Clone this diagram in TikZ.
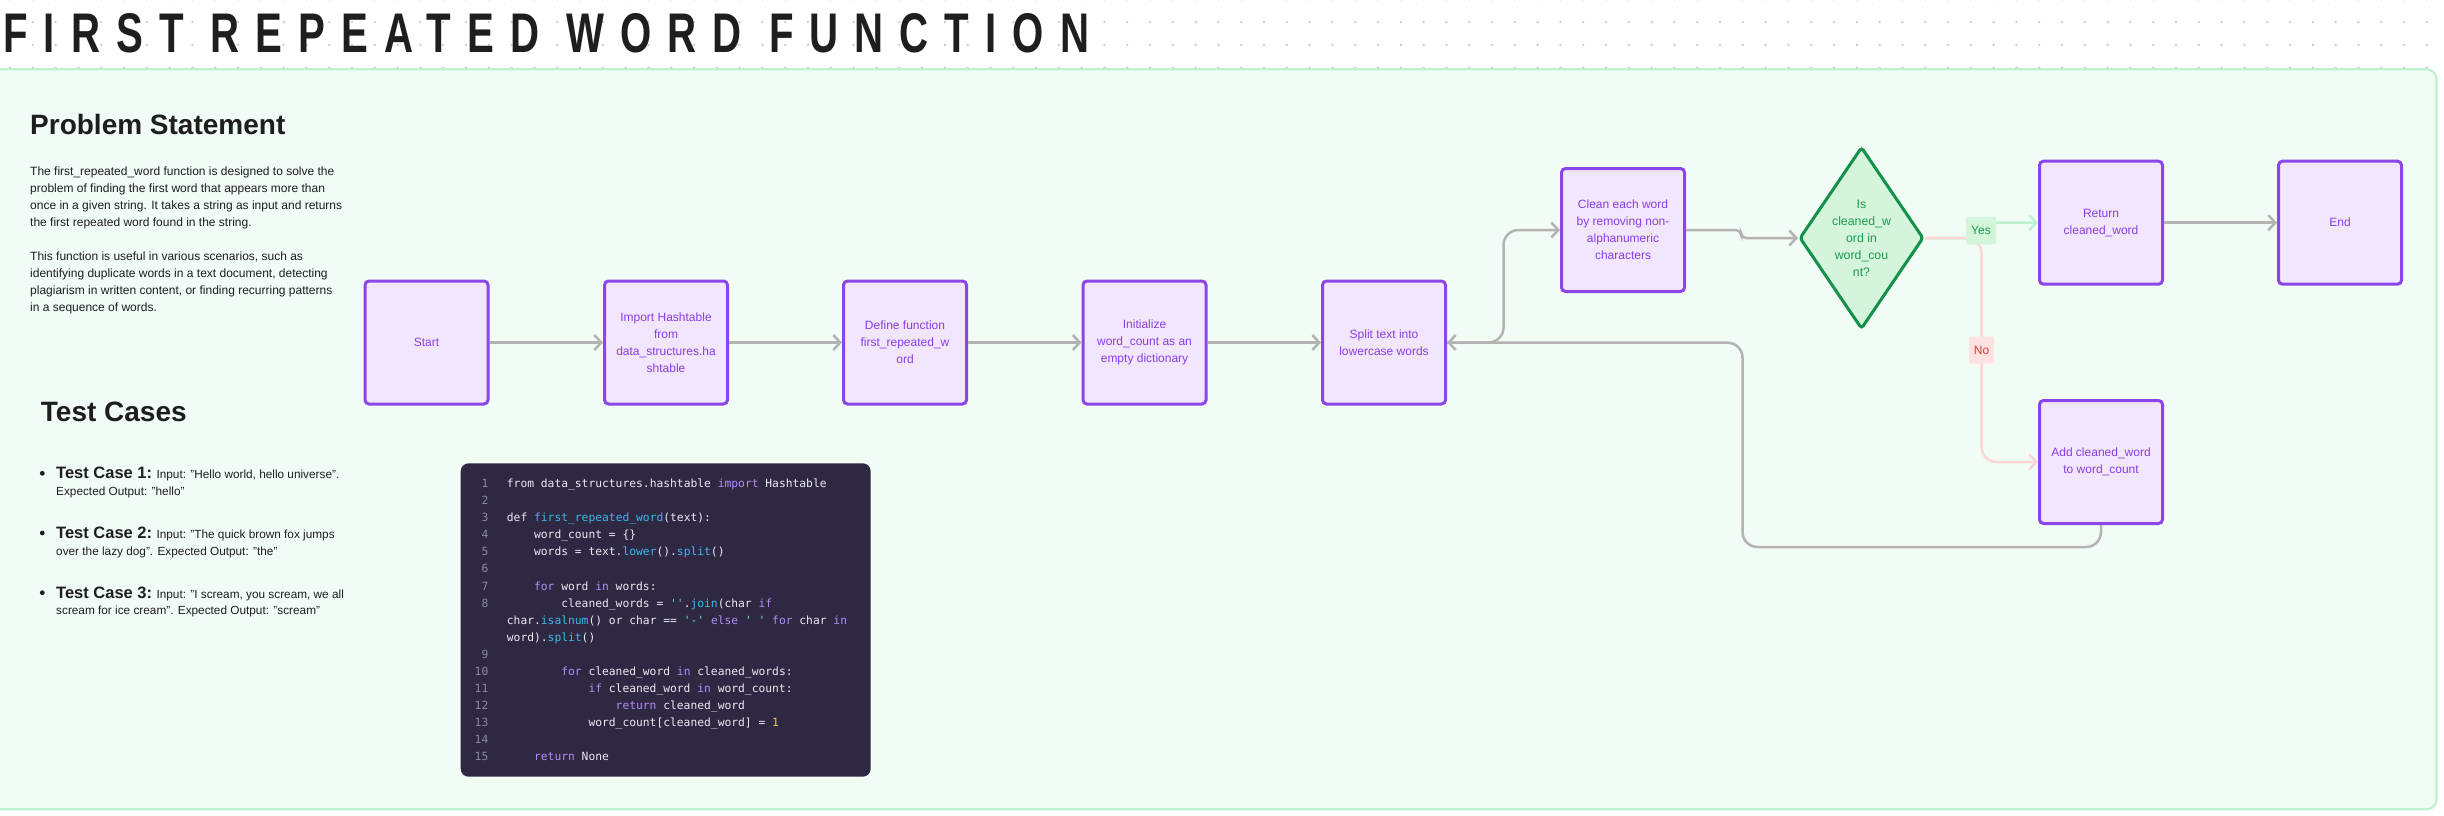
\documentclass[tikz,border=0pt]{standalone}
\usepackage{fontspec}
\usepackage{graphicx}
\setmainfont{Liberation Sans}
\setmonofont{DejaVu Sans Mono}
\newfontfamily\titlefont{Liberation Sans}[LetterSpace=40]
\usetikzlibrary{shapes.geometric,arrows.meta,calc}

\definecolor{dotc}{HTML}{CBCBCB}
\definecolor{panelfill}{HTML}{F1FCF4}
\definecolor{panelline}{HTML}{BDF0CF}
\definecolor{ink}{HTML}{1E1E1E}
\definecolor{boxfill}{HTML}{F2E6FD}
\definecolor{boxline}{HTML}{8B45E8}
\definecolor{boxtext}{HTML}{8A3DE6}
\definecolor{diafill}{HTML}{D4F5DC}
\definecolor{dialine}{HTML}{13914B}
\definecolor{diatext}{HTML}{1C9A50}
\definecolor{arrowgray}{HTML}{B3B3B3}
\definecolor{yesline}{HTML}{BDF2CC}
\definecolor{yesfill}{HTML}{D3F5D9}
\definecolor{yestext}{HTML}{1C9A4C}
\definecolor{noline}{HTML}{FDD5D5}
\definecolor{nofill}{HTML}{FEE2E2}
\definecolor{notext}{HTML}{E0393B}
\definecolor{codebg}{HTML}{2E2843}
\definecolor{codetext}{HTML}{ECEAF2}
\definecolor{codenum}{HTML}{8C8A9C}
\definecolor{ckwc}{HTML}{B28CF6}
\definecolor{cfnc}{HTML}{3DB8EA}
\definecolor{cstc}{HTML}{6EE0A0}
\definecolor{cnumc}{HTML}{F7C948}

\newcommand{\ckw}[1]{\textcolor{ckwc}{#1}}
\newcommand{\cfn}[1]{\textcolor{cfnc}{#1}}
\newcommand{\cst}[1]{\textcolor{cstc}{#1}}
\newcommand{\cnum}[1]{\textcolor{cnumc}{#1}}

\tikzset{
  procbox/.style={draw=boxline, fill=boxfill, line width=3, rounded corners=4,
    minimum width=123, minimum height=123, inner sep=2, align=center,
    text=boxtext, font=\fontsize{12}{17}\selectfont},
  decbox/.style={diamond, draw=dialine, fill=diafill, line width=3, rounded corners=3,
    minimum width=124, minimum height=182, inner sep=0},
  dectext/.style={align=center, text=diatext, font=\fontsize{12.3}{17}\selectfont, inner sep=0},
  arrgray/.style={draw=arrowgray, line width=2.5, -{Straight Barb[length=7pt,width=15pt]}},
  arryes/.style={draw=yesline, line width=2.5, -{Straight Barb[length=7pt,width=15pt]}},
  arrno/.style={draw=noline, line width=2.5, -{Straight Barb[length=7pt,width=15pt]}},
  yeslab/.style={fill=yesfill, text=yestext, minimum width=30, minimum height=27.5, inner sep=0, rounded corners=1.5, font=\fontsize{12}{14}\selectfont},
  nolab/.style={fill=nofill, text=notext, minimum width=25, minimum height=27, inner sep=0, rounded corners=1.5, font=\fontsize{12}{14}\selectfont},
  codebox/.style={fill=codebg, rounded corners=8, minimum width=410, minimum height=313.4, inner sep=0},
  cline/.style={anchor=base west, inner sep=0, text=codetext, font=\fontsize{11.3}{17}\ttfamily},
  cnumber/.style={anchor=base east, inner sep=0, text=codenum, font=\fontsize{11.3}{17}\ttfamily},
  bodytext/.style={anchor=base west, inner sep=0, text=ink, align=left, font=\fontsize{12}{17}\selectfont},
  casetext/.style={anchor=base west, inner sep=0, text=ink, align=left, font=\fontsize{11.8}{17}\selectfont},
  heading/.style={anchor=base west, inner sep=0, text=ink, font=\fontsize{28}{32}\selectfont\bfseries},
}

\begin{document}
\begin{tikzpicture}[x=1pt,y=-1pt]
\useasboundingbox (0,0) rectangle (2444,816);
\fill[white] (0,0) rectangle (2444,816);

% dot grid
\foreach \i in {0,...,106} {
  \foreach \j in {0,...,3} {
    \fill[dotc] (10+\i*22.8, -0.7+\j*22.8) circle (1.3);
  }
}

% title
\node[anchor=north west, inner sep=0, text=ink] (title) at (3,13)
  {\resizebox{1086pt}{39pt}{\titlefont\bfseries FIRST REPEATED WORD FUNCTION}};

% panel
\draw[fill=panelfill, draw=panelline, line width=2.2, rounded corners=10] (-20,69.3) rectangle (2436.5,809.3);

% problem statement (base anchor = baseline of last line)
\node[heading] (ph) at (30,134.3) {Problem Statement};
\node[bodytext] (p1) at (30,226) {The first\_repeated\_word function is designed to solve the\\problem of finding the first word that appears more than\\once in a given string. It takes a string as input and returns\\the first repeated word found in the string.};
\node[bodytext] (p2) at (30,311) {This function is useful in various scenarios, such as\\identifying duplicate words in a text document, detecting\\plagiarism in written content, or finding recurring patterns\\in a sequence of words.};

% test cases
\node[heading] (th) at (40.7,421.7) {Test Cases};
\fill[ink] (42.3,473.3) circle (2.4);
\fill[ink] (42.3,533) circle (2.4);
\fill[ink] (42.3,592.7) circle (2.4);
\node[casetext] (t1a) at (56,478.3) {{\fontsize{16.5}{20}\selectfont\bfseries Test Case 1:} Input: "Hello world, hello universe".};
\node[casetext] (t1b) at (56,495) {Expected Output: "hello"};
\node[casetext] (t2a) at (56,538.3) {{\fontsize{16.5}{20}\selectfont\bfseries Test Case 2:} Input: "The quick brown fox jumps};
\node[casetext] (t2b) at (56,555) {over the lazy dog". Expected Output: "the"};
\node[casetext] (t3a) at (56,598.3) {{\fontsize{16.5}{20}\selectfont\bfseries Test Case 3:} Input: "I scream, you scream, we all};
\node[casetext] (t3b) at (56,614.8) {scream for ice cream". Expected Output: "scream"};

% code block
\node[codebox] (code) at (665.7,620) {};
\foreach \n/\y in {1/487.5,2/504.6,3/521.7,4/538.7,5/555.8,6/572.9,7/590,8/607,9/658.3,10/675.4,11/692.4,12/709.5,13/726.6,14/743.7,15/760.8} {
  \node[cnumber] (n\n) at (488.5,\y) {\n};
}
\node[cline] (c1) at (506.7,487.5) {from data\_structures.hashtable \ckw{import} Hashtable};
\node[cline] (c3) at (506.7,521.7) {def \cfn{first\_repeated\_word}(text):};
\node[cline] (c4) at (533.9,538.7) {word\_count = \{\}};
\node[cline] (c5) at (533.9,555.8) {words = text.\cfn{lower}().\cfn{split}()};
\node[cline] (c7) at (533.9,590) {\ckw{for} word \ckw{in} words:};
\node[cline] (c8) at (561.1,607) {cleaned\_words = \cst{''}.\cfn{join}(char \ckw{if}};
\node[cline] (c8b) at (506.7,624.1) {char.\cfn{isalnum}() or char == \cst{'-'} \ckw{else} \cst{' '} \ckw{for} char \ckw{in}};
\node[cline] (c8c) at (506.7,641.2) {word).\cfn{split}()};
\node[cline] (c10) at (561.1,675.4) {\ckw{for} cleaned\_word \ckw{in} cleaned\_words:};
\node[cline] (c11) at (588.3,692.4) {\ckw{if} cleaned\_word \ckw{in} word\_count:};
\node[cline] (c12) at (615.5,709.5) {\ckw{return} cleaned\_word};
\node[cline] (c13) at (588.3,726.6) {word\_count[cleaned\_word] = \cnum{1}};
\node[cline] (c15) at (533.9,760.8) {\ckw{return} None};

% flowchart nodes
\node[procbox] (start) at (426.5,342.5) {Start};
\node[procbox] (imp) at (666,342.5) {Import Hashtable\\from\\data\_structures.ha\\shtable};
\node[procbox] (deff) at (905,342.5) {Define function\\first\_repeated\_w\\ord};
\node[procbox] (init) at (1144.5,342.5) {Initialize\\word\_count as an\\empty dictionary};
\node[procbox] (split) at (1384,342.5) {Split text into\\lowercase words};
\node[procbox] (clean) at (1623,230) {Clean each word\\by removing non-\\alphanumeric\\characters};
\node[decbox] (q) at (1861.5,238) {};
\node[dectext] (qt) at (q.center) {Is\\cleaned\_w\\ord in\\word\_cou\\nt?};
\node[procbox] (ret) at (2101,222.7) {Return\\cleaned\_word};
\node[procbox] (endn) at (2340,222.7) {End};
\node[procbox] (add) at (2101,462) {Add cleaned\_word\\to word\_count};

\coordinate (loopc) at (1742.5,342.7);

% connectors
\draw[arrgray] (start) -- (imp);
\draw[arrgray] (imp) -- (deff);
\draw[arrgray] (deff) -- (init);
\draw[arrgray] (init) -- (split);
\draw[arrgray, rounded corners=15] (split.east) -- ++(56.5,0) |- (clean.west);
\draw[arrgray, rounded corners=5] (clean.east) -- ++(55,0) |- (q.west);
\draw[arryes, rounded corners=4] (q.east) -- ++(56.5,0) |- (ret.west);
\draw[arrno, rounded corners=15] (q.east) -- ++(56.5,0) |- (add.west);
\draw[arrgray] (ret) -- (endn);
\draw[arrgray, rounded corners=15] (add.south) -- ++(0,22) -| (loopc) -- (split.east);

% labels
\node[yeslab] (yes) at (1981,230.5) {Yes};
\node[nolab] (no) at (1981.5,350) {No};
\end{tikzpicture}
\end{document}
